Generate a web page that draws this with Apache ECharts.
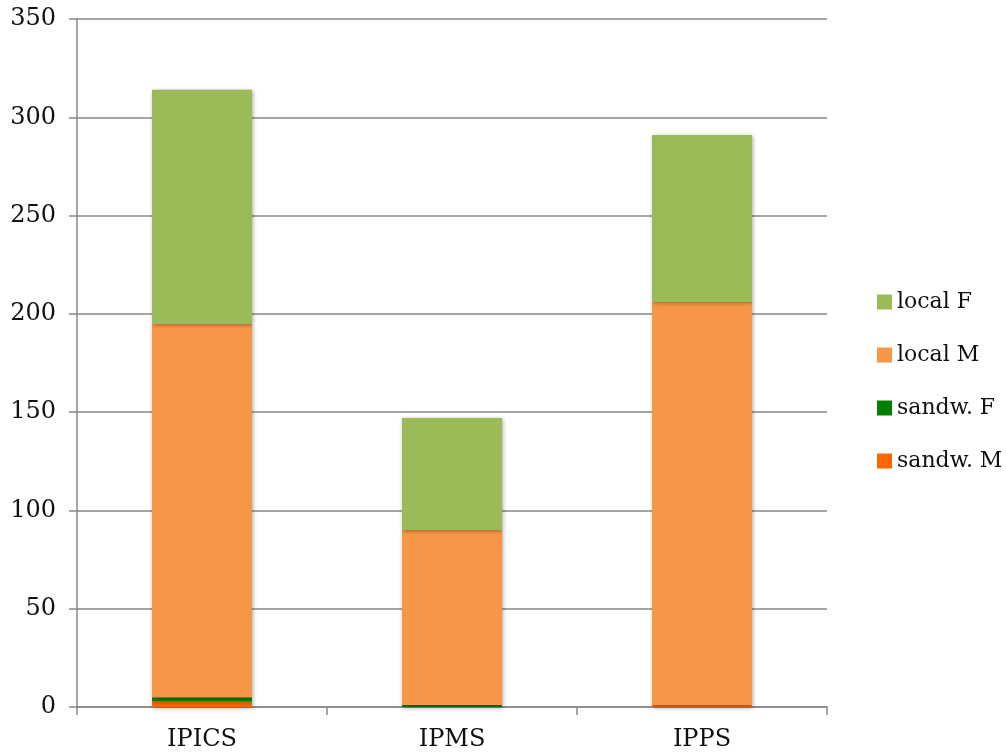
<!DOCTYPE html>
<html><head><meta charset="utf-8">
<script src="https://cdn.jsdelivr.net/npm/echarts@6/dist/echarts.min.js"></script>
<style>html,body{margin:0;padding:0;background:#fff}#c{width:1006px;height:753px}</style>
</head><body><div id="c"></div>
<script>
const categories = ['IPICS', 'IPMS', 'IPPS'];
const sandwM = [3, 0, 1];
const sandwF = [2, 1, 0];
const localM = [190, 89, 205];
const localF = [119, 57, 85];
const yTicks = [0, 50, 100, 150, 200, 250, 300, 350];

const font = '"DejaVu Serif", "Liberation Serif", serif';
const shadow = {shadowColor: 'rgba(0,0,0,0.35)', shadowBlur: 4, shadowOffsetX: 1, shadowOffsetY: 1};
function s(name, data, color) {
  return {name, type: 'bar', stack: 'a', data, barWidth: '40%',
    itemStyle: Object.assign({color}, shadow), emphasis: {disabled: true}};
}
const chart = echarts.init(document.getElementById('c'));
chart.setOption({
  animation: false,
  grid: {left: 77, right: 179, top: 19, bottom: 46},
  legend: {
    orient: 'vertical', left: 872, top: 286,
    itemWidth: 15, itemHeight: 15, itemGap: 31,
    icon: 'rect',
    data: ['local F', 'local M', 'sandw. F', 'sandw. M'],
    textStyle: {fontFamily: font, fontSize: 22, color: '#111'}
  },
  xAxis: {
    type: 'category', data: categories,
    axisLine: {lineStyle: {color: '#888', width: 1.5}},
    axisTick: {show: true, length: 8, lineStyle: {color: '#888', width: 1.5}},
    axisLabel: {fontFamily: font, fontSize: 24, color: '#111', margin: 21}
  },
  yAxis: {
    type: 'value', min: yTicks[0], max: yTicks[yTicks.length - 1], interval: 50,
    axisLine: {show: true, lineStyle: {color: '#888', width: 1.5}},
    axisTick: {show: true, length: 8, lineStyle: {color: '#888', width: 1.5}},
    splitLine: {lineStyle: {color: '#888', width: 1.5}},
    axisLabel: {fontFamily: font, fontSize: 24, color: '#111', margin: 21}
  },
  series: [
    s('sandw. M', sandwM, '#FF6600'),
    s('sandw. F', sandwF, '#008000'),
    s('local M', localM, '#F79646'),
    s('local F', localF, '#9BBB59')
  ]
});
</script></body></html>
